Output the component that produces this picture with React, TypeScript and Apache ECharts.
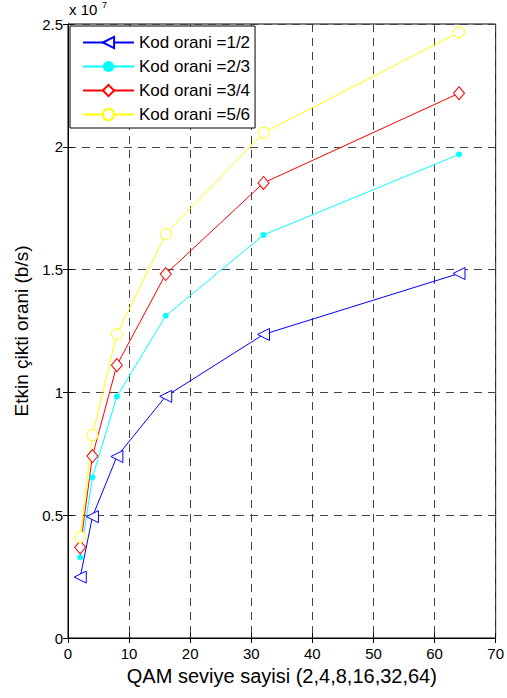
import React, { useEffect, useRef } from "react";
import * as echarts from "echarts";

const qamLevels = [2, 4, 8, 16, 32, 64];
const seriesNames = ["Kod orani =1/2", "Kod orani =2/3", "Kod orani =3/4", "Kod orani =5/6"];
const rate12 = [0.248, 0.494, 0.739, 0.984, 1.236, 1.484];
const rate23 = [0.328, 0.654, 0.983, 1.312, 1.641, 1.969];
const rate34 = [0.369, 0.741, 1.111, 1.482, 1.853, 2.218];
const rate56 = [0.411, 0.826, 1.237, 1.645, 2.057, 2.466];
const yTicks = [0, 0.5, 1, 1.5, 2, 2.5];
const xTicks = [0, 10, 20, 30, 40, 50, 60, 70];

const FONT = "Liberation Sans, Arial, sans-serif";

export default function App() {
  const ref = useRef<HTMLDivElement>(null);
  useEffect(() => {
    if (!ref.current) return;
    const chart = echarts.init(ref.current, undefined, { renderer: "svg" });
    const mk = (vals: number[]) => vals.map((v, i) => [qamLevels[i], v]);
    const line = (color: string) => ({
      type: "line",
      color,
      lineStyle: { width: 1, color },
      z: 3,
      xAxisIndex: 0,
      yAxisIndex: 0,
    });
    const dash = { show: true, lineStyle: { color: "#444", type: [8, 6], width: 1 } };
    const tick = { show: true, inside: true, length: 5, lineStyle: { color: "#000" } };
    chart.setOption({
      animation: false,
      backgroundColor: "#fff",
      textStyle: { fontFamily: FONT },
      grid: {
        left: 68, top: 24, width: 429, height: 614,
        show: true, borderColor: "#000", borderWidth: 1, backgroundColor: "transparent",
      },
      legend: {
        left: 70, top: 26,
        orient: "vertical",
        backgroundColor: "#fff",
        borderColor: "#000",
        borderWidth: 1,
        borderRadius: 0,
        padding: [8, 5, 5, 12],
        itemWidth: 51,
        itemHeight: 14,
        itemGap: 7,
        textStyle: { fontSize: 17, color: "#000", fontFamily: "Arial", fontWeight: "normal" },
        data: seriesNames,
      },
      xAxis: [
        {
          type: "value",
          min: 0, max: 70, interval: 10,
          name: "QAM seviye sayisi (2,4,8,16,32,64)",
          nameLocation: "middle",
          nameGap: 28,
          nameTextStyle: { fontSize: 20, color: "#000", fontFamily: FONT },
          axisLine: { show: true, lineStyle: { color: "#000" } },
          axisTick: tick,
          axisLabel: { fontSize: 15, color: "#000", margin: 8, fontFamily: FONT,
            formatter: (v: number) => (xTicks.includes(v) ? String(v) : "") },
          splitLine: dash,
        },
        {
          type: "value",
          position: "top",
          min: 0, max: 70, interval: 10,
          axisLine: { show: true, lineStyle: { color: "#000" } },
          axisTick: tick,
          axisLabel: { show: false },
          splitLine: { show: false },
        },
      ],
      yAxis: [
        {
          type: "value",
          min: 0, max: 2.5, interval: 0.5,
          name: "Etkin çikti orani (b/s)",
          nameLocation: "middle",
          nameGap: 36,
          nameTextStyle: { fontSize: 19, color: "#000", fontFamily: FONT },
          axisLine: { show: true, lineStyle: { color: "#000" } },
          axisTick: tick,
          axisLabel: { fontSize: 15, color: "#000", margin: 5, fontFamily: FONT,
            formatter: (v: number) => (yTicks.includes(v) ? String(v) : "") },
          splitLine: dash,
        },
        {
          type: "value",
          position: "right",
          min: 0, max: 2.5, interval: 0.5,
          axisLine: { show: true, lineStyle: { color: "#000" } },
          axisTick: tick,
          axisLabel: { show: false },
          splitLine: { show: false },
        },
      ],
      graphic: [
        { type: "text", left: 69, top: 2, style: { text: "x 10", fill: "#000", font: `15px ${FONT}` } },
        { type: "text", left: 102, top: 0, style: { text: "7", fill: "#000", font: `9px ${FONT}` } },
      ],
      series: [
        { ...line("#0000ff"), name: seriesNames[0], data: mk(rate12),
          symbol: "triangle", symbolRotate: 90, symbolSize: [12, 12],
          itemStyle: { color: "#fff", borderColor: "#0000ff", borderWidth: 1 } },
        { ...line("#00ffff"), name: seriesNames[1], data: mk(rate23),
          symbol: "circle", symbolSize: 6,
          itemStyle: { color: "#00ffff", borderColor: "#00ffff", borderWidth: 0 } },
        { ...line("#ff0000"), name: seriesNames[2], data: mk(rate34),
          symbol: "diamond", symbolSize: [11, 13],
          itemStyle: { color: "#fff", borderColor: "#ff0000", borderWidth: 1 } },
        { ...line("#ffff00"), name: seriesNames[3], data: mk(rate56),
          symbol: "circle", symbolSize: 11,
          itemStyle: { color: "#fff", borderColor: "#ffff00", borderWidth: 1 } },
      ],
    });
    return () => chart.dispose();
  }, []);
  return (
    <div
      ref={ref}
      style={{ position: "absolute", left: 0, top: 0, width: 507, height: 698 }}
    />
  );
}
